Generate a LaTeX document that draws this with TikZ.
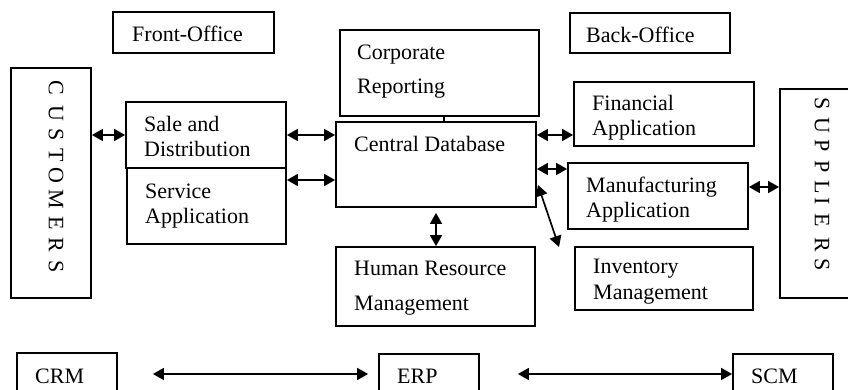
\documentclass[tikz,border=0pt]{standalone}
\usepackage{fontspec}
\setmainfont{Liberation Serif}
\usetikzlibrary{arrows.meta}
\begin{document}
\begin{tikzpicture}[x=1pt,y=-1pt,
  box/.style={draw, line width=1.8pt, inner sep=0pt},
  lbl/.style={anchor=base west, inner sep=0pt, font=\fontsize{22}{25}\selectfont},
  vlet/.style={inner sep=0pt, rotate=-90, font=\fontsize{22}{25}\selectfont},
  biarrow/.style={line width=1.7pt, {Triangle[length=11pt,width=12pt]}-{Triangle[length=11pt,width=12pt]}},
  plain/.style={line width=1.7pt}]
\useasboundingbox (0,0) rectangle (848,390);
\clip (0,0) rectangle (848,390);

% outer boxes
\node[box, minimum width=161, minimum height=41] (front) at (193.5,32.5) {};
\node[box, minimum width=160, minimum height=40] (back) at (650,33) {};
\node[box, minimum width=80, minimum height=230] (cust) at (51,183) {};
\node[box, minimum width=90, minimum height=209] (supp) at (825,193.5) {};

% application boxes
\node[box, minimum width=160, minimum height=66] (sale) at (206,135) {};
\node[box, minimum width=159, minimum height=76] (serv) at (206.5,206) {};
\node[box, minimum width=199, minimum height=86] (corp) at (439.5,73) {};
\node[box, minimum width=200, minimum height=85] (central) at (436,164.5) {};
\node[box, minimum width=199, minimum height=79] (hrm) at (435.5,286.5) {};
\node[box, minimum width=180, minimum height=64] (fin) at (664,114) {};
\node[box, minimum width=180, minimum height=66] (manu) at (658,196) {};
\node[box, minimum width=178, minimum height=63] (inv) at (664,278.5) {};

% system boxes
\node[box, minimum width=100, minimum height=47] (crm) at (67,376.5) {};
\node[box, minimum width=100, minimum height=46] (erp) at (429,377) {};
\node[box, minimum width=100, minimum height=46] (scm) at (783,377) {};

% labels
\node[lbl] (tfront) at (132,42) {Front-Office};
\node[lbl] (tback) at (586,43) {Back-Office};
\node[lbl] (tsale1) at (144,132) {Sale and};
\node[lbl] (tsale2) at (144,157) {Distribution};
\node[lbl] (tserv1) at (145,198) {Service};
\node[lbl] (tserv2) at (145,223) {Application};
\node[lbl] (tcorp1) at (357,60) {Corporate};
\node[lbl] (tcorp2) at (357,94) {Reporting};
\node[lbl] (tcent) at (354,152) {Central Database};
\node[lbl] (thrm1) at (354,275) {Human Resource};
\node[lbl] (thrm2) at (354,310) {Management};
\node[lbl] (tfin1) at (592,111) {Financial};
\node[lbl] (tfin2) at (592,136) {Application};
\node[lbl] (tmanu1) at (586,193) {Manufacturing};
\node[lbl] (tmanu2) at (586,218) {Application};
\node[lbl] (tinv1) at (593,273) {Inventory};
\node[lbl] (tinv2) at (593,299) {Management};
\node[lbl] (tcrm) at (35,383) {CRM};
\node[lbl] (terp) at (397,383) {ERP};
\node[lbl] (tscm) at (751,383) {SCM};

% vertical lettering
\foreach \l/\yy [count=\i] in {C/88,U/113,S/135,T/155,O/175,M/199,E/223,R/245,S/267}
  \node[vlet] (cl\i) at (56,\yy) {\l};
\foreach \l/\yy [count=\i] in {S/104,U/125,P/146,P/167,L/187,I/201,E/220,R/245,S/265}
  \node[vlet] (sl\i) at (822,\yy) {\l};

% connectors
\coordinate (dstart) at (538,185);
\coordinate (dend) at (559,247);
\draw[biarrow] (cust.east |- 0,135) -- (sale.west |- 0,135);
\draw[biarrow] (sale.east |- 0,135) -- (central.west |- 0,135);
\draw[biarrow] (serv.east |- 0,180) -- (central.west |- 0,180);
\draw[plain] (corp.south -| 444,0) -- (central.north -| 444,0);
\draw[biarrow] (central.east |- 0,135) -- (fin.west |- 0,135);
\draw[biarrow] (central.east |- 0,169) -- (manu.west |- 0,169);
\draw[biarrow] (dstart) -- (dend);
\draw[biarrow] ([yshift=-5pt]central.south -| 436,0) -- (hrm.north -| 436,0);
\draw[biarrow] (manu.east |- 0,187) -- (supp.west |- 0,187);
\draw[biarrow] ([xshift=35pt]crm.east |- 0,374) -- ([xshift=-10pt]erp.west |- 0,374);
\draw[biarrow] ([xshift=38pt]erp.east |- 0,374) -- (scm.west |- 0,374);
\end{tikzpicture}
\end{document}
